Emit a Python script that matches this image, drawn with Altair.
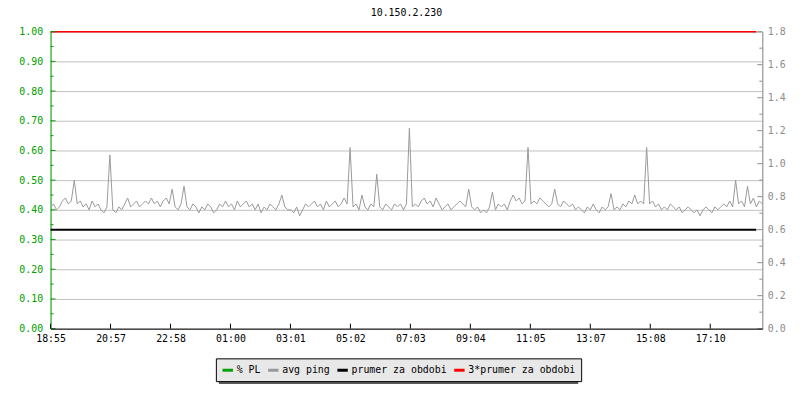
import altair as alt
import pandas as pd

# ---------------- data ----------------
title_text = "10.150.2.230"
time_labels = ["18:55", "20:57", "22:58", "01:00", "03:01", "05:02",
               "07:03", "09:04", "11:05", "13:07", "15:08", "17:10"]
series_names = ["% PL", "avg ping", "prumer za obdobi", "3*prumer za obdobi"]
series_colors = ["#00a000", "#999999", "#000000", "#ff0000"]

# avg ping, one value every 6 minutes from 18:55
avg_ping = [
    0.41, 0.42, 0.40, 0.41, 0.43, 0.44, 0.42, 0.43, 0.50, 0.42, 0.43, 0.41, 0.42, 0.40,
    0.43, 0.41, 0.42, 0.40, 0.39, 0.41, 0.585, 0.40, 0.39, 0.41, 0.40, 0.42, 0.44, 0.41,
    0.42, 0.43, 0.41, 0.42, 0.43, 0.42, 0.44, 0.42, 0.43, 0.41, 0.43, 0.44, 0.42,
    0.47, 0.41, 0.40, 0.42, 0.48, 0.41, 0.40, 0.42, 0.41, 0.39, 0.41, 0.40, 0.42, 0.41,
    0.39, 0.40, 0.42, 0.41, 0.43, 0.41, 0.42, 0.40, 0.43, 0.41, 0.42, 0.43, 0.41, 0.42,
    0.40, 0.42, 0.39, 0.41, 0.40, 0.42, 0.41, 0.40, 0.42, 0.45, 0.41, 0.40,
    0.40, 0.39, 0.41, 0.38, 0.40, 0.42, 0.41, 0.42, 0.43, 0.41, 0.42, 0.40, 0.43, 0.41,
    0.42, 0.43, 0.41, 0.42, 0.44, 0.42, 0.61, 0.41, 0.42, 0.40, 0.45, 0.41, 0.40, 0.42,
    0.41, 0.52, 0.41, 0.40, 0.42, 0.41, 0.40, 0.42, 0.41, 0.42, 0.40, 0.42, 0.675, 0.41,
    0.42, 0.41, 0.43, 0.44, 0.42, 0.43, 0.41, 0.44, 0.42, 0.40, 0.41, 0.42, 0.40, 0.41,
    0.42, 0.43, 0.42, 0.41, 0.47, 0.41, 0.40, 0.41, 0.39, 0.40, 0.39, 0.41, 0.46, 0.40,
    0.42, 0.41, 0.42, 0.40, 0.43, 0.45, 0.43, 0.44, 0.42, 0.43, 0.61, 0.42,
    0.43, 0.42, 0.44, 0.43, 0.42, 0.41, 0.42, 0.47, 0.42, 0.41, 0.43, 0.42, 0.41, 0.42,
    0.40, 0.41, 0.40, 0.39, 0.41, 0.40, 0.42, 0.40, 0.39, 0.41, 0.40, 0.41, 0.455, 0.40,
    0.41, 0.40, 0.42, 0.41, 0.43, 0.42, 0.45, 0.42, 0.43, 0.42, 0.61, 0.42,
    0.43, 0.41, 0.42, 0.40, 0.41, 0.40, 0.42, 0.41, 0.40, 0.41, 0.39, 0.40, 0.41, 0.40,
    0.39, 0.40, 0.38, 0.40, 0.41, 0.40, 0.39, 0.41, 0.40, 0.41, 0.42, 0.41, 0.43, 0.41,
    0.50, 0.42, 0.43, 0.41, 0.48, 0.42, 0.44, 0.41, 0.43, 0.42,
]
sample_minutes = 6
prumer = 0.3333          # prumer za obdobi
levels_end = 1428        # minutes after 18:55 where the level lines stop
span_minutes = 1440
tick_step = 121.33       # minutes between time labels

# ---------------- layout / style ----------------
W, H = 719, 300
FONT = "DejaVu Sans Mono"
GREEN = "#00a000"
GRAY_AX = "#8c8c8c"
GRID = "#c0c0c0"

ping_df = pd.DataFrame({
    "t": [i * sample_minutes for i in range(len(avg_ping))],
    "v": avg_ping,
    "s": "avg ping",
})
level_df = pd.DataFrame({
    "s": ["prumer za obdobi", "3*prumer za obdobi"],
    "v": [prumer, 3 * prumer],
    "t0": [0, 0],
    "t1": [levels_end, levels_end],
})
tick_pos = [round(k * tick_step, 3) for k in range(len(time_labels))]
label_expr = "[" + ",".join(f"'{l}'" for l in time_labels) + f"][round(datum.value/{tick_step})]"

left_major = [round(k * 0.1, 2) for k in range(11)]
left_minor = [round(k * 0.1 + 0.05, 2) for k in range(10)]
right_major = [round(k * 0.2, 1) for k in range(10)]
right_minor = [round(k * 0.2 + 0.1, 1) for k in range(9)]

xscale = alt.Scale(domain=[0, span_minutes], nice=False, zero=False)
yL = alt.Scale(domain=[0, 1], nice=False, zero=False)
yR = alt.Scale(domain=[0, 1.8], nice=False, zero=False)
cscale = alt.Scale(domain=series_names, range=series_colors)

x_axis = alt.Axis(
    values=tick_pos, labelExpr=label_expr, grid=False, ticks=False,
    domainColor="black", labelColor="black", labelFont=FONT, labelFontSize=10,
    labelPadding=5, labelFlush=False, labelOverlap=False, title=None, zindex=1)
left_axis = alt.Axis(
    values=left_major, format=".2f", labelColor=GREEN, domainColor=GREEN,
    ticks=False, grid=True, gridColor=GRID, labelPadding=8,
    labelFont=FONT, labelFontSize=10, title=None, zindex=0)
right_axis = alt.Axis(
    orient="right", values=right_major, format=".1f", labelColor=GRAY_AX,
    domainColor=GRAY_AX, ticks=False, grid=False, labelPadding=5,
    labelFont=FONT, labelFontSize=10, title=None)

legend = alt.Legend(
    orient="none", legendX=167, legendY=330, direction="horizontal", title=None,
    symbolType="stroke", symbolStrokeWidth=3, symbolSize=110,
    labelFont=FONT, labelFontSize=10, labelColor="black",
    fillColor="#e8e8e8", strokeColor="black", padding=5,
    columnPadding=0, labelOffset=2,
)

ping = alt.Chart(ping_df).mark_line(strokeWidth=1).encode(
    x=alt.X("t:Q", scale=xscale, axis=x_axis),
    y=alt.Y("v:Q", scale=yL, axis=left_axis),
    color=alt.Color("s:N", scale=cscale, legend=legend),
)

black = alt.Chart(level_df).transform_filter(
    alt.datum.s == "prumer za obdobi"
).mark_rule(strokeWidth=2).encode(
    x=alt.X("t0:Q", scale=xscale, axis=x_axis), x2="t1:Q",
    y=alt.Y("v:Q", scale=yL, axis=left_axis),
    color=alt.Color("s:N", scale=cscale, legend=legend),
)
red = alt.Chart(level_df).transform_filter(
    alt.datum.s == "3*prumer za obdobi"
).mark_rule(strokeWidth=1.5).encode(
    x=alt.X("t0:Q", scale=xscale, axis=x_axis), x2="t1:Q",
    y=alt.Y("v:Q", scale=yL, axis=left_axis),
    color=alt.Color("s:N", scale=cscale, legend=legend),
)

lt_major = alt.Chart(pd.DataFrame({"v": left_major})).mark_rule(color=GREEN).encode(
    y=alt.Y("v:Q", scale=yL, axis=left_axis), x=alt.value(0), x2=alt.value(5))
lt_minor = alt.Chart(pd.DataFrame({"v": left_minor})).mark_rule(color=GREEN).encode(
    y=alt.Y("v:Q", scale=yL, axis=left_axis), x=alt.value(0), x2=alt.value(3))
bt = alt.Chart(pd.DataFrame({"t": tick_pos})).mark_rule(color="black").encode(
    x=alt.X("t:Q", scale=xscale, axis=x_axis), y=alt.value(H), y2=alt.value(H - 5))

shadow = alt.Chart(pd.DataFrame({"a": [0]})).mark_rect(color="#5a5a5a").encode(
    x=alt.value(170), x2=alt.value(533), y=alt.value(333), y2=alt.value(356))

left = alt.layer(shadow, ping, black, red, lt_major, lt_minor, bt)

rt_major = alt.Chart(pd.DataFrame({"v": right_major})).mark_rule(color=GRAY_AX).encode(
    y=alt.Y("v:Q", scale=yR, axis=right_axis),
    x=alt.value(W - 5), x2=alt.value(W))
rt_minor = alt.Chart(pd.DataFrame({"v": right_minor})).mark_rule(color=GRAY_AX).encode(
    y=alt.Y("v:Q", scale=yR, axis=right_axis), x=alt.value(W - 3), x2=alt.value(W))
right = alt.layer(rt_major, rt_minor)

chart = alt.layer(left, right).resolve_scale(y="independent").properties(
    width=W, height=H,
    padding={"left": 43, "top": 22, "right": 30, "bottom": 56},
    autosize=alt.AutoSizeParams(type="none"),
    title=alt.TitleParams(text=title_text, font=FONT, fontSize=10, fontWeight="normal",
                          color="black", anchor="middle", frame="group", offset=9),
).configure_view(stroke=None).configure(background="white")

chart.save("out.html", embed_options={"renderer": "svg", "actions": False})
